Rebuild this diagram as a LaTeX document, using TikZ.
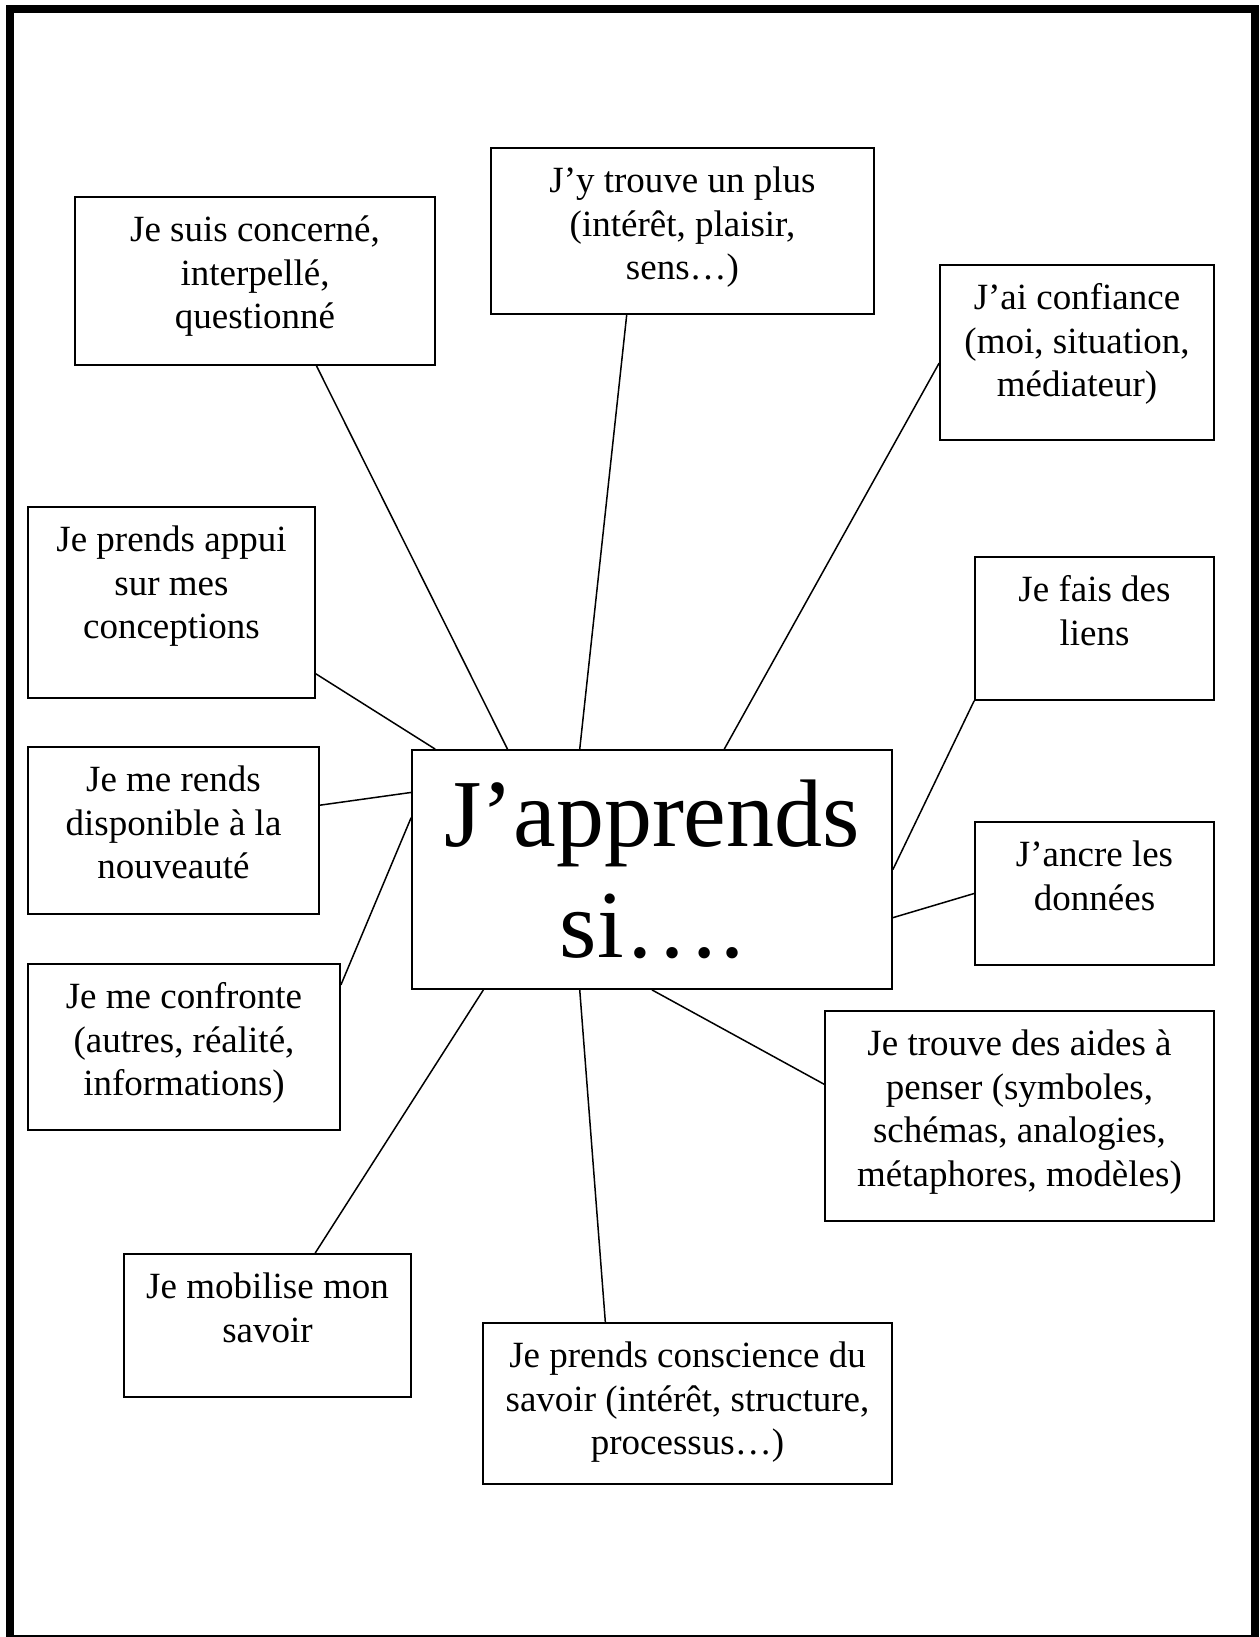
\documentclass[tikz,border=0pt]{standalone}
\usepackage{fontspec}
\setmainfont{Liberation Serif}
\usetikzlibrary{calc}
\begin{document}
\begin{tikzpicture}[x=1pt,y=-1pt,
  boxst/.style={draw=black, line width=1.8pt, rectangle, inner sep=0pt},
  txt/.style={anchor=north, inner sep=0pt, align=center, font=\fontsize{37}{43.5}\selectfont},
  bigtxt/.style={anchor=north, inner sep=0pt, align=center, font=\fontsize{96}{111}\selectfont},
  conn/.style={draw=black, line width=1.5pt}]
\useasboundingbox (0,0) rectangle (1259,1637);
% frame
\draw[line width=8pt, line join=miter] (10,1637) -- (10,9) -- (1255,9) -- (1255,1637);
\draw[line width=1.5pt] (14,1636) -- (1251,1636);
% boxes
\node[boxst, minimum width=360pt, minimum height=168pt] (b1) at (255,281) {};
\node[boxst, minimum width=383pt, minimum height=166pt] (b2) at (682.5,231) {};
\node[boxst, minimum width=274pt, minimum height=175pt] (b3) at (1077,352.5) {};
\node[boxst, minimum width=287pt, minimum height=191pt] (b4) at (171.5,602.5) {};
\node[boxst, minimum width=239pt, minimum height=143pt] (b5) at (1094.5,628.5) {};
\node[boxst, minimum width=480pt, minimum height=239pt] (c) at (652,869.5) {};
\node[boxst, minimum width=291pt, minimum height=167pt] (b7) at (173.5,830.5) {};
\node[boxst, minimum width=239pt, minimum height=143pt] (b8) at (1094.5,893.5) {};
\node[boxst, minimum width=312pt, minimum height=166pt] (b9) at (184,1047) {};
\node[boxst, minimum width=389pt, minimum height=210pt] (b10) at (1019.5,1116) {};
\node[boxst, minimum width=287pt, minimum height=143pt] (b11) at (267.5,1325.5) {};
\node[boxst, minimum width=409pt, minimum height=161pt] (b12) at (687.5,1403.5) {};
% texts
\node[txt] (t1) at ([yshift=-9.5pt]b1.north) {\rule{0pt}{36pt}Je suis concerné,\\interpellé,\\questionné};
\node[txt] (t2) at ([yshift=-9.5pt]b2.north) {\rule{0pt}{36pt}J’y trouve un plus\\(intérêt, plaisir,\\sens…)};
\node[txt] (t3) at ([yshift=-9.5pt]b3.north) {\rule{0pt}{36pt}J’ai confiance\\(moi, situation,\\médiateur)};
\node[txt] (t4) at ([yshift=-9.5pt]b4.north) {\rule{0pt}{36pt}Je prends appui\\sur mes\\conceptions};
\node[txt] (t5) at ([yshift=-9.5pt]b5.north) {\rule{0pt}{36pt}Je fais des\\liens};
\node[bigtxt] (tc) at ([yshift=-17pt]c.north) {\rule{0pt}{80pt}J’apprends\\si….};
\node[txt] (t7) at ([yshift=-9.5pt]b7.north) {\rule{0pt}{36pt}Je me rends\\disponible à la\\nouveauté};
\node[txt] (t8) at ([yshift=-9.5pt]b8.north) {\rule{0pt}{36pt}J’ancre les\\données};
\node[txt] (t9) at ([yshift=-9.5pt]b9.north) {\rule{0pt}{36pt}Je me confronte\\(autres, réalité,\\informations)};
\node[txt] (t10) at ([yshift=-9.5pt]b10.north) {\rule{0pt}{36pt}Je trouve des aides à\\penser (symboles,\\schémas, analogies,\\métaphores, modèles)};
\node[txt] (t11) at ([yshift=-9.5pt]b11.north) {\rule{0pt}{36pt}Je mobilise mon\\savoir};
\node[txt] (t12) at ([yshift=-9.5pt]b12.north) {\rule{0pt}{36pt}Je prends conscience du\\savoir (intérêt, structure,\\processus…)};
% connectors
\draw[conn] ($(b1.south west)!0.67!(b1.south east)$) -- ($(c.north west)!0.2!(c.north east)$);
\draw[conn] ($(b2.south west)!0.355!(b2.south east)$) -- ($(c.north west)!0.35!(c.north east)$);
\draw[conn] ($(b3.north west)!0.56!(b3.south west)$) -- ($(c.north west)!0.65!(c.north east)$);
\draw[conn] ($(b4.north east)!0.87!(b4.south east)$) -- ($(c.north west)!0.05!(c.north east)$);
\draw[conn] ($(b7.north east)!0.35!(b7.south east)$) -- ($(c.north west)!0.18!(c.south west)$);
\draw[conn] ($(b9.north east)!0.13!(b9.south east)$) -- ($(c.north west)!0.285!(c.south west)$);
\draw[conn] (b5.south west) -- ($(c.north east)!0.5!(c.south east)$);
\draw[conn] ($(b8.north west)!0.5!(b8.south west)$) -- ($(c.north east)!0.7!(c.south east)$);
\draw[conn] ($(b10.north west)!0.35!(b10.south west)$) -- ($(c.south west)!0.5!(c.south east)$);
\draw[conn] ($(b11.north west)!0.665!(b11.north east)$) -- ($(c.south west)!0.15!(c.south east)$);
\draw[conn] ($(b12.north west)!0.3!(b12.north east)$) -- ($(c.south west)!0.35!(c.south east)$);
\end{tikzpicture}
\end{document}
